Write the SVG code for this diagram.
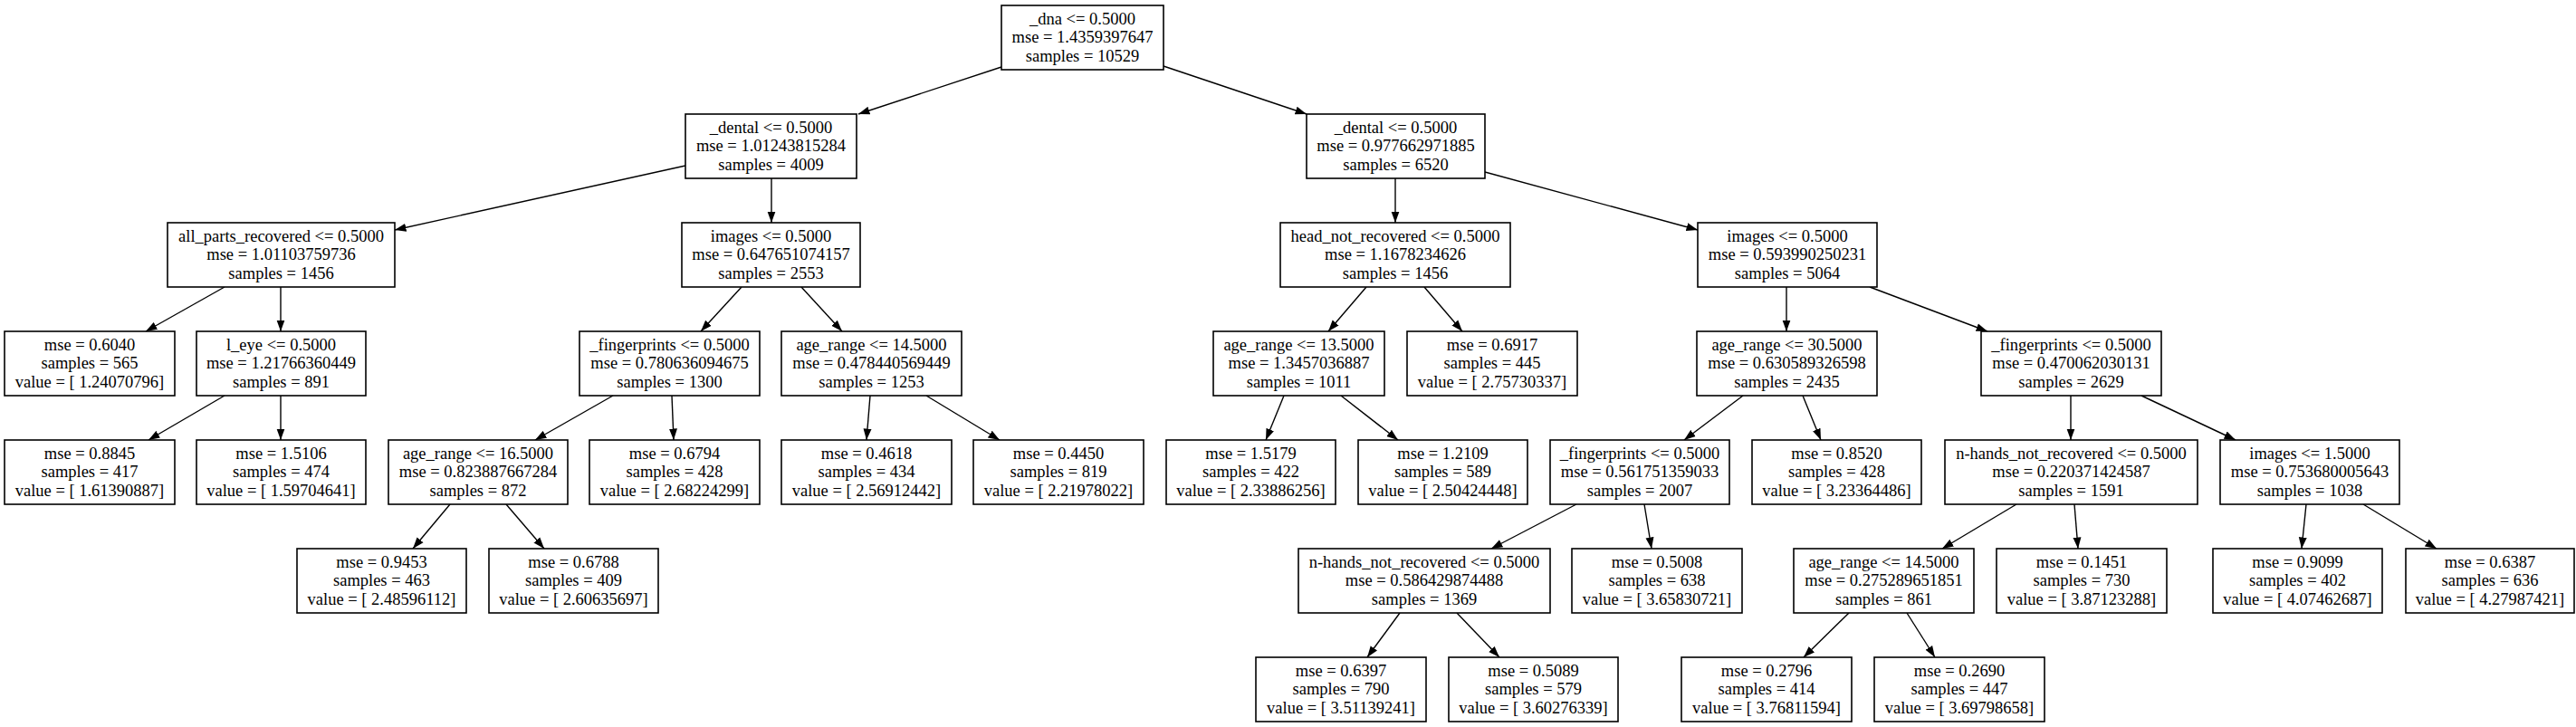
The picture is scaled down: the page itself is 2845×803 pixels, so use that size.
<svg xmlns="http://www.w3.org/2000/svg" width="2845" height="803" viewBox="0 0 2845 803">
<style>
rect.n{fill:#fff;stroke:#000;stroke-width:1.6}
text{font-family:"Liberation Serif","Times New Roman",serif;font-size:18.5px;text-anchor:middle;fill:#000}
line.e{stroke:#000;stroke-width:1.4;marker-end:url(#ah)}
</style>
<defs>
<marker id="ah" markerUnits="userSpaceOnUse" markerWidth="13" markerHeight="10" refX="12.5" refY="4.5" orient="auto" viewBox="0 0 13 9">
<path d="M0,0 L12.5,4.5 L0,9 z" fill="#000"/>
</marker>
</defs>
<rect width="2845" height="803" fill="#fff"/>
<g id="edges">
<line class="e" x1="1106" y1="74" x2="948" y2="126"/>
<line class="e" x1="1285" y1="73" x2="1443" y2="126"/>
<line class="e" x1="757" y1="183" x2="436" y2="254"/>
<line class="e" x1="852" y1="197" x2="852" y2="246"/>
<line class="e" x1="1541" y1="197" x2="1541" y2="246"/>
<line class="e" x1="1640" y1="190" x2="1875" y2="254"/>
<line class="e" x1="248" y1="317" x2="161" y2="366"/>
<line class="e" x1="310" y1="317" x2="310" y2="366"/>
<line class="e" x1="819" y1="317" x2="774" y2="366"/>
<line class="e" x1="885" y1="317" x2="930" y2="366"/>
<line class="e" x1="1509" y1="317" x2="1467" y2="366"/>
<line class="e" x1="1573" y1="317" x2="1615" y2="366"/>
<line class="e" x1="1973" y1="317" x2="1973" y2="366"/>
<line class="e" x1="2065" y1="317" x2="2195" y2="366"/>
<line class="e" x1="248" y1="437" x2="164" y2="486"/>
<line class="e" x1="310" y1="437" x2="310" y2="486"/>
<line class="e" x1="677" y1="437" x2="591" y2="486"/>
<line class="e" x1="742" y1="437" x2="744" y2="486"/>
<line class="e" x1="961" y1="437" x2="957" y2="486"/>
<line class="e" x1="1023" y1="437" x2="1104" y2="486"/>
<line class="e" x1="1418" y1="437" x2="1398" y2="486"/>
<line class="e" x1="1481" y1="437" x2="1544" y2="486"/>
<line class="e" x1="1925" y1="437" x2="1860" y2="486"/>
<line class="e" x1="1991" y1="437" x2="2011" y2="486"/>
<line class="e" x1="2287" y1="437" x2="2287" y2="486"/>
<line class="e" x1="2365" y1="437" x2="2469" y2="486"/>
<line class="e" x1="497" y1="557" x2="456" y2="606"/>
<line class="e" x1="559" y1="557" x2="601" y2="606"/>
<line class="e" x1="1741" y1="557" x2="1647" y2="606"/>
<line class="e" x1="1816" y1="557" x2="1824" y2="606"/>
<line class="e" x1="2227" y1="557" x2="2145" y2="606"/>
<line class="e" x1="2291" y1="557" x2="2295" y2="606"/>
<line class="e" x1="2547" y1="557" x2="2542" y2="606"/>
<line class="e" x1="2610" y1="557" x2="2691" y2="606"/>
<line class="e" x1="1546" y1="677" x2="1510" y2="726"/>
<line class="e" x1="1609" y1="677" x2="1656" y2="726"/>
<line class="e" x1="2042" y1="677" x2="1992" y2="726"/>
<line class="e" x1="2106" y1="677" x2="2137" y2="726"/>
</g>
<g id="n0"><rect class="n" x="1106" y="6" width="179" height="71"/><text x="1195.5" y="27">_dna &lt;= 0.5000</text><text x="1195.5" y="47.3">mse = 1.4359397647</text><text x="1195.5" y="67.6">samples = 10529</text></g>
<g id="n1"><rect class="n" x="757" y="126" width="189" height="71"/><text x="851.5" y="147">_dental &lt;= 0.5000</text><text x="851.5" y="167.3">mse = 1.01243815284</text><text x="851.5" y="187.6">samples = 4009</text></g>
<g id="n2"><rect class="n" x="1443" y="126" width="197" height="71"/><text x="1541.5" y="147">_dental &lt;= 0.5000</text><text x="1541.5" y="167.3">mse = 0.977662971885</text><text x="1541.5" y="187.6">samples = 6520</text></g>
<g id="n3"><rect class="n" x="185" y="246" width="251" height="71"/><text x="310.5" y="267">all_parts_recovered &lt;= 0.5000</text><text x="310.5" y="287.3">mse = 1.01103759736</text><text x="310.5" y="307.6">samples = 1456</text></g>
<g id="n4"><rect class="n" x="753" y="246" width="197" height="71"/><text x="851.5" y="267">images &lt;= 0.5000</text><text x="851.5" y="287.3">mse = 0.647651074157</text><text x="851.5" y="307.6">samples = 2553</text></g>
<g id="n5"><rect class="n" x="1414" y="246" width="254" height="71"/><text x="1541" y="267">head_not_recovered &lt;= 0.5000</text><text x="1541" y="287.3">mse = 1.1678234626</text><text x="1541" y="307.6">samples = 1456</text></g>
<g id="n6"><rect class="n" x="1875" y="246" width="198" height="71"/><text x="1974" y="267">images &lt;= 0.5000</text><text x="1974" y="287.3">mse = 0.593990250231</text><text x="1974" y="307.6">samples = 5064</text></g>
<g id="n7"><rect class="n" x="5" y="366" width="188" height="71"/><text x="99" y="387">mse = 0.6040</text><text x="99" y="407.3">samples = 565</text><text x="99" y="427.6">value = [ 1.24070796]</text></g>
<g id="n8"><rect class="n" x="217" y="366" width="187" height="71"/><text x="310.5" y="387">l_eye &lt;= 0.5000</text><text x="310.5" y="407.3">mse = 1.21766360449</text><text x="310.5" y="427.6">samples = 891</text></g>
<g id="n9"><rect class="n" x="640" y="366" width="199" height="71"/><text x="739.5" y="387">_fingerprints &lt;= 0.5000</text><text x="739.5" y="407.3">mse = 0.780636094675</text><text x="739.5" y="427.6">samples = 1300</text></g>
<g id="n10"><rect class="n" x="863" y="366" width="199" height="71"/><text x="962.5" y="387">age_range &lt;= 14.5000</text><text x="962.5" y="407.3">mse = 0.478440569449</text><text x="962.5" y="427.6">samples = 1253</text></g>
<g id="n11"><rect class="n" x="1340" y="366" width="189" height="71"/><text x="1434.5" y="387">age_range &lt;= 13.5000</text><text x="1434.5" y="407.3">mse = 1.3457036887</text><text x="1434.5" y="427.6">samples = 1011</text></g>
<g id="n12"><rect class="n" x="1554" y="366" width="188" height="71"/><text x="1648" y="387">mse = 0.6917</text><text x="1648" y="407.3">samples = 445</text><text x="1648" y="427.6">value = [ 2.75730337]</text></g>
<g id="n13"><rect class="n" x="1874" y="366" width="199" height="71"/><text x="1973.5" y="387">age_range &lt;= 30.5000</text><text x="1973.5" y="407.3">mse = 0.630589326598</text><text x="1973.5" y="427.6">samples = 2435</text></g>
<g id="n14"><rect class="n" x="2188" y="366" width="199" height="71"/><text x="2287.5" y="387">_fingerprints &lt;= 0.5000</text><text x="2287.5" y="407.3">mse = 0.470062030131</text><text x="2287.5" y="427.6">samples = 2629</text></g>
<g id="n15"><rect class="n" x="5" y="486" width="188" height="71"/><text x="99" y="507">mse = 0.8845</text><text x="99" y="527.3">samples = 417</text><text x="99" y="547.6">value = [ 1.61390887]</text></g>
<g id="n16"><rect class="n" x="217" y="486" width="187" height="71"/><text x="310.5" y="507">mse = 1.5106</text><text x="310.5" y="527.3">samples = 474</text><text x="310.5" y="547.6">value = [ 1.59704641]</text></g>
<g id="n17"><rect class="n" x="429" y="486" width="198" height="71"/><text x="528" y="507">age_range &lt;= 16.5000</text><text x="528" y="527.3">mse = 0.823887667284</text><text x="528" y="547.6">samples = 872</text></g>
<g id="n18"><rect class="n" x="651" y="486" width="188" height="71"/><text x="745" y="507">mse = 0.6794</text><text x="745" y="527.3">samples = 428</text><text x="745" y="547.6">value = [ 2.68224299]</text></g>
<g id="n19"><rect class="n" x="863" y="486" width="188" height="71"/><text x="957" y="507">mse = 0.4618</text><text x="957" y="527.3">samples = 434</text><text x="957" y="547.6">value = [ 2.56912442]</text></g>
<g id="n20"><rect class="n" x="1075" y="486" width="188" height="71"/><text x="1169" y="507">mse = 0.4450</text><text x="1169" y="527.3">samples = 819</text><text x="1169" y="547.6">value = [ 2.21978022]</text></g>
<g id="n21"><rect class="n" x="1288" y="486" width="187" height="71"/><text x="1381.5" y="507">mse = 1.5179</text><text x="1381.5" y="527.3">samples = 422</text><text x="1381.5" y="547.6">value = [ 2.33886256]</text></g>
<g id="n22"><rect class="n" x="1500" y="486" width="187" height="71"/><text x="1593.5" y="507">mse = 1.2109</text><text x="1593.5" y="527.3">samples = 589</text><text x="1593.5" y="547.6">value = [ 2.50424448]</text></g>
<g id="n23"><rect class="n" x="1712" y="486" width="198" height="71"/><text x="1811" y="507">_fingerprints &lt;= 0.5000</text><text x="1811" y="527.3">mse = 0.561751359033</text><text x="1811" y="547.6">samples = 2007</text></g>
<g id="n24"><rect class="n" x="1935" y="486" width="187" height="71"/><text x="2028.5" y="507">mse = 0.8520</text><text x="2028.5" y="527.3">samples = 428</text><text x="2028.5" y="547.6">value = [ 3.23364486]</text></g>
<g id="n25"><rect class="n" x="2148" y="486" width="279" height="71"/><text x="2287.5" y="507">n-hands_not_recovered &lt;= 0.5000</text><text x="2287.5" y="527.3">mse = 0.220371424587</text><text x="2287.5" y="547.6">samples = 1591</text></g>
<g id="n26"><rect class="n" x="2452" y="486" width="198" height="71"/><text x="2551" y="507">images &lt;= 1.5000</text><text x="2551" y="527.3">mse = 0.753680005643</text><text x="2551" y="547.6">samples = 1038</text></g>
<g id="n27"><rect class="n" x="328" y="606" width="187" height="71"/><text x="421.5" y="627">mse = 0.9453</text><text x="421.5" y="647.3">samples = 463</text><text x="421.5" y="667.6">value = [ 2.48596112]</text></g>
<g id="n28"><rect class="n" x="540" y="606" width="187" height="71"/><text x="633.5" y="627">mse = 0.6788</text><text x="633.5" y="647.3">samples = 409</text><text x="633.5" y="667.6">value = [ 2.60635697]</text></g>
<g id="n29"><rect class="n" x="1434" y="606" width="278" height="71"/><text x="1573" y="627">n-hands_not_recovered &lt;= 0.5000</text><text x="1573" y="647.3">mse = 0.586429874488</text><text x="1573" y="667.6">samples = 1369</text></g>
<g id="n30"><rect class="n" x="1736" y="606" width="188" height="71"/><text x="1830" y="627">mse = 0.5008</text><text x="1830" y="647.3">samples = 638</text><text x="1830" y="667.6">value = [ 3.65830721]</text></g>
<g id="n31"><rect class="n" x="1981" y="606" width="199" height="71"/><text x="2080.5" y="627">age_range &lt;= 14.5000</text><text x="2080.5" y="647.3">mse = 0.275289651851</text><text x="2080.5" y="667.6">samples = 861</text></g>
<g id="n32"><rect class="n" x="2205" y="606" width="188" height="71"/><text x="2299" y="627">mse = 0.1451</text><text x="2299" y="647.3">samples = 730</text><text x="2299" y="667.6">value = [ 3.87123288]</text></g>
<g id="n33"><rect class="n" x="2444" y="606" width="187" height="71"/><text x="2537.5" y="627">mse = 0.9099</text><text x="2537.5" y="647.3">samples = 402</text><text x="2537.5" y="667.6">value = [ 4.07462687]</text></g>
<g id="n34"><rect class="n" x="2657" y="606" width="186" height="71"/><text x="2750" y="627">mse = 0.6387</text><text x="2750" y="647.3">samples = 636</text><text x="2750" y="667.6">value = [ 4.27987421]</text></g>
<g id="n35"><rect class="n" x="1387" y="726" width="188" height="71"/><text x="1481" y="747">mse = 0.6397</text><text x="1481" y="767.3">samples = 790</text><text x="1481" y="787.6">value = [ 3.51139241]</text></g>
<g id="n36"><rect class="n" x="1600" y="726" width="187" height="71"/><text x="1693.5" y="747">mse = 0.5089</text><text x="1693.5" y="767.3">samples = 579</text><text x="1693.5" y="787.6">value = [ 3.60276339]</text></g>
<g id="n37"><rect class="n" x="1857" y="726" width="188" height="71"/><text x="1951" y="747">mse = 0.2796</text><text x="1951" y="767.3">samples = 414</text><text x="1951" y="787.6">value = [ 3.76811594]</text></g>
<g id="n38"><rect class="n" x="2070" y="726" width="188" height="71"/><text x="2164" y="747">mse = 0.2690</text><text x="2164" y="767.3">samples = 447</text><text x="2164" y="787.6">value = [ 3.69798658]</text></g>
</svg>
